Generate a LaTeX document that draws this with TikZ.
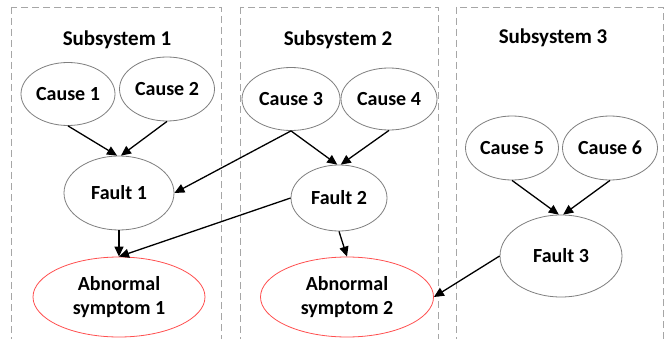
\documentclass[tikz,border=0pt]{standalone}
\usepackage{fontspec}
\setmainfont{Carlito}
\usetikzlibrary{shapes.geometric,arrows.meta}
\definecolor{framegray}{HTML}{A6A6A6}
\definecolor{ringgray}{HTML}{7F7F7F}
\definecolor{alarmred}{HTML}{FF5050}
\tikzset{
  subsys/.style={draw=framegray, line width=0.9pt, dash pattern=on 7pt off 4pt},
  title/.style={font=\fontsize{21}{25}\selectfont\bfseries},
  oval/.style={ellipse, draw=ringgray, line width=0.8pt, inner sep=0pt,
    font=\fontsize{20}{24}\selectfont\bfseries, align=center},
  symptom/.style={oval, draw=alarmred},
  link/.style={-{Triangle[length=10pt,width=9pt]}, line width=1.3pt, black}
}
\begin{document}
\begin{tikzpicture}[x=1pt,y=-1pt]
\useasboundingbox (0,0) rectangle (671,339);
\fill[white] (0,0) rectangle (671,339);
\begin{scope}
  \clip (0,0) rectangle (671,339);
  \draw[subsys] (11,7) rectangle (221,350);
  \draw[subsys] (240,7) rectangle (438,350);
  \draw[subsys] (456,7) rectangle (663,350);
\end{scope}

% subsystem titles
\node[title] (t1) at (117,40) {Subsystem 1};
\node[title] (t2) at (338,40) {Subsystem 2};
\node[title] (t3) at (553,38) {Subsystem 3};

% causes
\node[oval, minimum width=94pt, minimum height=63pt] (c1) at (68,94) {Cause 1};
\node[oval, minimum width=95pt, minimum height=64pt] (c2) at (167,89) {Cause 2};
\node[oval, minimum width=98pt, minimum height=63pt] (c3) at (291,99) {Cause 3};
\node[oval, minimum width=96pt, minimum height=62pt] (c4) at (389,99) {Cause 4};
\node[oval, minimum width=93pt, minimum height=64pt] (c5) at (512,148) {Cause 5};
\node[oval, minimum width=95pt, minimum height=64pt] (c6) at (610,148) {Cause 6};

% faults
\node[oval, minimum width=110pt, minimum height=74pt] (f1) at (119,193) {Fault 1};
\node[oval, minimum width=96pt, minimum height=66pt] (f2) at (339,198) {Fault 2};
\node[oval, minimum width=122pt, minimum height=82pt] (f3) at (561,256) {Fault 3};

% symptoms
\node[symptom, minimum width=172pt, minimum height=80pt] (a1) at (119,297) {Abnormal\\symptom 1};
\node[symptom, minimum width=173pt, minimum height=80pt] (a2) at (347,297) {Abnormal\\symptom 2};

% causal links
\draw[link] (c1.south) -- (f1.93);
\draw[link] (c2.south) -- (f1.87);
\draw[link] (c3.south) -- (f1.east);
\draw[link] (c3.south) -- (f2.93);
\draw[link] (c4.south) -- (f2.87);
\draw[link] (c5.south) -- (f3.93);
\draw[link] (c6.south) -- (f3.87);
\draw[link] (f1.south) -- (a1.north);
\draw[link] (f2.west) -- (a1.north);
\draw[link] (f2.south) -- (a2.north);
\draw[link] (f3.west) -- (a2.east);
\end{tikzpicture}
\end{document}
